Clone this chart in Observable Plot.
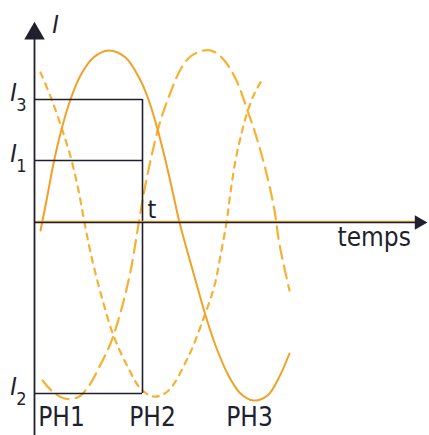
<!DOCTYPE html>
<html>
<head>
<meta charset="utf-8">
<script src="https://cdn.jsdelivr.net/npm/d3@7"></script>
<script src="https://cdn.jsdelivr.net/npm/@observablehq/plot@0.6"></script>
<style>
  html, body { margin: 0; padding: 0; background: #fff; overflow: hidden; }
  #chart svg { display: block; }
</style>
</head>
<body>
<div id="chart"></div>
<script>
// ---- data (time t, current I) ----
const ph1T = [6, 12, 19, 27, 36, 46, 59, 74, 91, 106, 114, 122, 131, 139, 145, 154, 163, 172, 181, 194, 206, 219, 233, 244, 255];
const ph1I = [-8, 22, 59, 93, 123, 147, 165, 172, 165, 142, 123, 97, 62, 27, 0, -33, -65, -96, -123, -153, -171, -178, -173, -156, -131];

const ph2T = [8, 18, 30, 43, 54, 66, 76, 84, 91, 97, 102, 108, 113, 119, 126, 136, 146, 156, 169, 179, 189, 201, 213, 223, 233, 240, 245, 255];
const ph2I = [-158, -169, -176, -175, -164, -142, -121, -97, -71, -44, -14, 22, 48, 75, 102, 130, 153, 166, 172, 171, 163, 144, 112, 82, 45, 12, -22, -68];

const ph3T = [6, 16, 26, 36, 44, 50, 56, 66, 79, 94, 106, 119, 133, 153, 169, 180, 186, 192, 196, 201, 207, 213, 220, 227];
const ph3I = [150, 126, 98, 66, 32, 0, -30, -70, -113, -146, -166, -174, -169, -136, -96, -63, -33, 0, 30, 62, 89, 111, 129, 142];

const levelNames = ["3", "1", "2"];          // I3, I1, I2
const levelValues = [123, 62, -171];
const tMark = 108;                            // instant t
const phaseLabels = ["PH1", "PH2", "PH3"];
const phaseTimes = [27, 118, 215];
const yAxisRange = [-213, 201];               // bottom, arrow tip
const xAxisRange = [0, 393];                  // origin, arrow tip

// ---- build tables ----
const zip = (T, I) => T.map((t, i) => ({t, I: I[i]}));
const ph1 = zip(ph1T, ph1I), ph2 = zip(ph2T, ph2I), ph3 = zip(ph3T, ph3I);
const levels = levelNames.map((n, i) => ({n, v: levelValues[i]}));
const phases = phaseLabels.map((n, i) => ({n, t: phaseTimes[i]}));

const ink = "#1f1f2d";
const orange = "#f2a126";
const orange2 = "#f6b133";
const font = "'Liberation Sans Narrow','Arial Narrow','DejaVu Sans Condensed',sans-serif";

const yTip = yAxisRange[1], xTip = xAxisRange[1];

const chart = Plot.plot({
  width: 429,
  height: 435,
  margin: 0,
  x: {domain: [-34, 395], axis: null},
  y: {domain: [-213, 222], axis: null},
  style: {background: "white", fontFamily: font, color: ink},
  marks: [
    // curves
    Plot.line(ph3, {x: "t", y: "I", stroke: orange2, strokeWidth: 2.2, strokeDasharray: "6,6", curve: "catmull-rom"}),
    Plot.line(ph2, {x: "t", y: "I", stroke: orange2, strokeWidth: 2.2, strokeDasharray: "13,7", curve: "catmull-rom"}),
    Plot.line(ph1, {x: "t", y: "I", stroke: orange, strokeWidth: 2, curve: "catmull-rom"}),
    // level lines and rectangle
    Plot.ruleY(levels, {y: "v", x1: 0, x2: tMark, stroke: ink, strokeWidth: 1.6}),
    Plot.ruleX([tMark], {y1: levelValues[2], y2: levelValues[0], stroke: ink, strokeWidth: 1.6}),
    // axes
    Plot.ruleY([0], {x1: xAxisRange[0], x2: xTip - 10, stroke: orange, strokeWidth: 1.2, dy: -1.2}),
    Plot.ruleY([0], {x1: xAxisRange[0], x2: xTip - 10, stroke: ink, strokeWidth: 1.4}),
    Plot.ruleX([0], {y1: yAxisRange[0], y2: yTip - 15, stroke: ink, strokeWidth: 1.8}),
    Plot.dot([{t: 0, I: yTip - 12}], {x: "t", y: "I", symbol: "triangle", r: 7.6, fill: ink, stroke: null}),
    Plot.dot([{t: xTip - 8.5, I: 0}], {x: "t", y: "I", symbol: "triangle", r: 5.4, rotate: 90, fill: ink, stroke: null}),
    // axis labels
    Plot.text(["I"], {x: 21, y: 190, text: d => d, fontStyle: "italic", fontSize: 25, lineAnchor: "bottom", textAnchor: "middle", fill: ink}),
    Plot.text(["temps"], {x: 303, y: -23, text: d => d, fontSize: 26, lineAnchor: "bottom", textAnchor: "start", fill: ink}),
    Plot.text(["t"], {x: tMark, y: 5, text: d => d, dx: 5, fontSize: 25, lineAnchor: "bottom", textAnchor: "start", fill: ink}),
    // level labels: I + subscript
    Plot.text(levels, {x: 0, y: "v", text: () => "I", dx: -21, dy: 1, fontStyle: "italic", fontSize: 25, lineAnchor: "bottom", textAnchor: "middle", fill: ink}),
    Plot.text(levels, {x: 0, y: "v", text: "n", dx: -13, dy: 11, fontSize: 18, lineAnchor: "bottom", textAnchor: "middle", fill: ink}),
    // phase labels
    Plot.text(phases, {x: "t", y: -203, text: "n", fontSize: 26, lineAnchor: "bottom", textAnchor: "middle", fill: ink})
  ]
});
document.getElementById("chart").appendChild(chart);
</script>
</body>
</html>
